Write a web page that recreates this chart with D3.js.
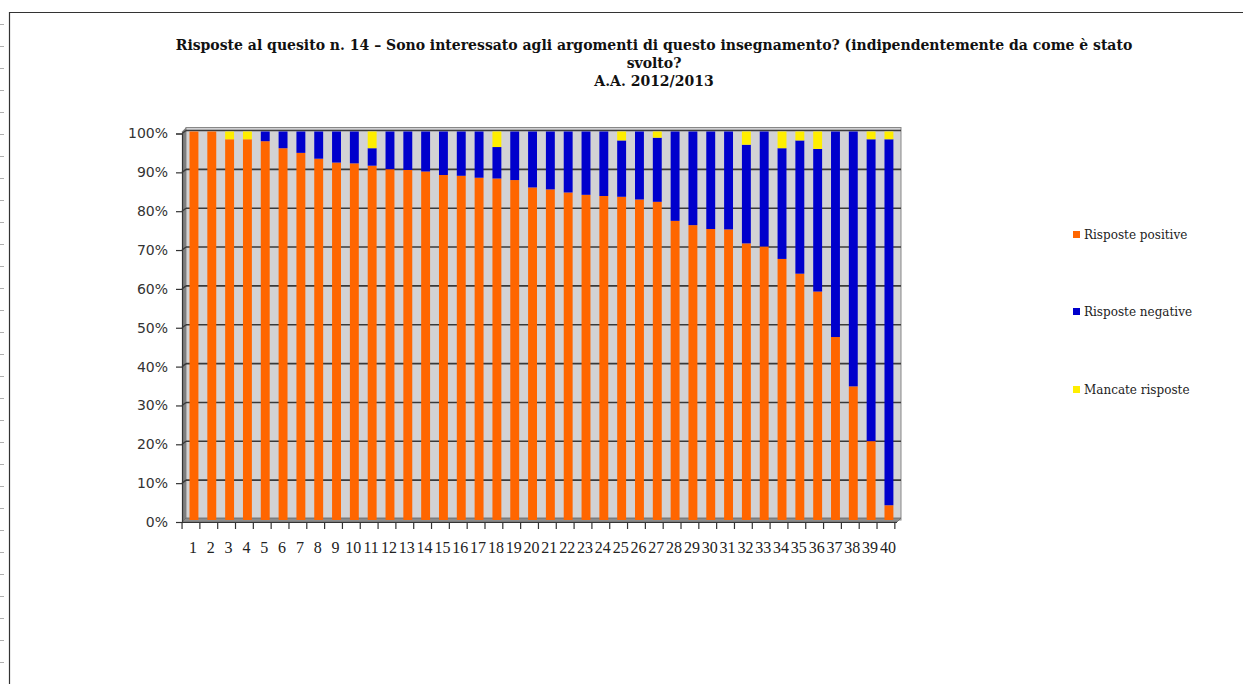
<!DOCTYPE html>
<html>
<head>
<meta charset="utf-8">
<script src="https://cdn.jsdelivr.net/npm/d3@7/dist/d3.min.js"></script>
<style>
  html, body { margin: 0; padding: 0; background: #ffffff; }
  svg { display: block; }
</style>
</head>
<body>
<svg id="chart" width="1252" height="684"></svg>
<script>
// ---- data ----
const categories = ["1","2","3","4","5","6","7","8","9","10","11","12","13","14","15","16","17","18","19","20",
                    "21","22","23","24","25","26","27","28","29","30","31","32","33","34","35","36","37","38","39","40"];
const positive = [100,100,98,98,97.5,95.7,94.5,93,92,91.8,91.2,90.3,90.1,89.7,88.8,88.6,88.1,87.9,87.5,85.6,
                  85.1,84.3,83.7,83.4,83.2,82.5,81.9,77,75.9,74.9,74.8,71.2,70.4,67.2,63.4,58.8,47.1,34.4,20.3,3.8];
const negative = [0,0,0,0,2.5,4.3,5.5,7,8,8.2,4.5,9.7,9.9,10.3,11.2,11.4,11.9,8.1,12.5,14.4,
                  14.9,15.7,16.3,16.6,14.5,17.5,16.5,23,24.1,25.1,25.2,25.4,29.6,28.5,34.3,36.7,52.9,65.6,77.7,94.2];
const missing  = [0,0,2,2,0,0,0,0,0,0,4.3,0,0,0,0,0,0,4,0,0,
                  0,0,0,0,2.3,0,1.6,0,0,0,0,3.4,0,4.3,2.3,4.5,0,0,2,2];
const seriesNames = ["Risposte positive", "Risposte negative", "Mancate risposte"];
const seriesKeys = ["pos", "neg", "mis"];
const seriesColors = ["#ff6600", "#0000cc", "#ffee00"];
const yTicks = [0,10,20,30,40,50,60,70,80,90,100];
const titleLines = [
  "Risposte al quesito n. 14 \u2013 Sono interessato agli argomenti di questo insegnamento? (indipendentemente da come \u00e8 stato",
  "svolto?",
  "A.A. 2012/2013"
];

const table = categories.map((c, i) => ({cat: c, pos: positive[i], neg: negative[i], mis: missing[i]}));

// ---- layout ----
const svg = d3.select("#chart");
const depth = 4;
const backLeft = 186, backRight = 901;
const x = d3.scaleBand().domain(categories).range([180.6, 902.3]).paddingInner(0.5).paddingOuter(0.5);
const y = d3.scaleLinear().domain([0, 100]).range([520, 131.5]);

// frame
svg.append("line").attr("x1", 9.5).attr("x2", 9.5).attr("y1", 12).attr("y2", 684).attr("stroke", "#333").attr("stroke-width", 1.2);
svg.append("line").attr("x1", 9).attr("x2", 1243).attr("y1", 12.5).attr("y2", 12.5).attr("stroke", "#333").attr("stroke-width", 1.2);
// ruler marks
svg.append("g").selectAll("line").data(d3.range(24, 684, 22)).join("line")
  .attr("x1", 0).attr("x2", 4).attr("y1", d => d + 0.5).attr("y2", d => d + 0.5)
  .attr("stroke", "#b0b0b0").attr("stroke-width", 1);

// title
svg.append("g").selectAll("text").data(titleLines).join("text")
  .attr("x", 654).attr("y", (d, i) => 50 + i * 18)
  .attr("text-anchor", "middle")
  .attr("font-family", "'DejaVu Serif', serif").attr("font-weight", "bold").attr("font-size", 14)
  .attr("fill", "#111")
  .text(d => d);

// back wall
svg.append("rect").attr("x", backLeft).attr("y", y(100) - depth).attr("width", backRight - backLeft).attr("height", y(0) - y(100) + depth)
  .attr("fill", "#d2d2d4").attr("stroke", "#888").attr("stroke-width", 1);
// left wall
svg.append("path")
  .attr("d", `M${backLeft - depth},${y(100)} L${backLeft},${y(100) - depth} L${backLeft},${y(0) - depth + 2} L${backLeft - depth},${y(0) + 2} Z`)
  .attr("fill", "#7d7d7d");
// floor
svg.append("path")
  .attr("d", `M${backLeft - depth},${y(0) + 2} L${backLeft},${y(0) - 2} L${backRight},${y(0) - 2} L${backRight - depth},${y(0) + 2} Z`)
  .attr("fill", "#8c8c8c").attr("stroke", "#666").attr("stroke-width", 0.8);

// gridlines
const grid = svg.append("g");
grid.selectAll("line.g").data(yTicks.filter(t => t > 0)).join("line")
  .attr("x1", backLeft).attr("x2", backRight)
  .attr("y1", d => y(d) - 1).attr("y2", d => y(d) - 1)
  .attr("stroke", "#3a3a3a").attr("stroke-width", 1.6);
grid.selectAll("line.s").data(yTicks.filter(t => t > 0)).join("line")
  .attr("x1", backLeft - depth).attr("x2", backLeft)
  .attr("y1", d => y(d) + 2).attr("y2", d => y(d) - 1)
  .attr("stroke", "#3a3a3a").attr("stroke-width", 1.4);

// bars
const stack = d3.stack().keys(seriesKeys);
const layers = stack(table);
svg.append("g").selectAll("g").data(layers).join("g")
  .attr("fill", (d, i) => seriesColors[i])
  .selectAll("rect").data(d => d).join("rect")
  .attr("x", d => x(d.data.cat))
  .attr("y", d => y(d[1]))
  .attr("width", x.bandwidth())
  .attr("height", d => Math.max(0, y(d[0]) - y(d[1])));

// y axis
const yAxis = d3.axisLeft(y).tickValues(yTicks).tickFormat(d => d + "%").tickSize(6).tickPadding(8);
const ya = svg.append("g").attr("transform", `translate(${backLeft - depth},2)`).call(yAxis);
ya.select(".domain").attr("stroke", "#333").attr("stroke-width", 1.2);
ya.selectAll(".tick line").attr("stroke", "#333").attr("stroke-width", 1.2);
ya.selectAll(".tick text").attr("font-family", "'DejaVu Sans', sans-serif").attr("font-size", 14).attr("fill", "#333");

// x axis
const xa = svg.append("g").attr("transform", `translate(0,${y(0) + 2})`);
xa.append("line").attr("x1", backLeft - depth).attr("x2", backRight - depth).attr("y1", 0.5).attr("y2", 0.5)
  .attr("stroke", "#333").attr("stroke-width", 1.2);
const step = x.step();
xa.selectAll("line.t").data(d3.range(categories.length + 1)).join("line")
  .attr("x1", i => x(categories[0]) - step * 0.25 - depth + i * step + 1)
  .attr("x2", i => x(categories[0]) - step * 0.25 - depth + i * step + 1)
  .attr("y1", 0).attr("y2", 7)
  .attr("stroke", "#333").attr("stroke-width", 1.2);
xa.selectAll("text").data(categories).join("text")
  .attr("x", d => x(d) + x.bandwidth() / 2 - 1)
  .attr("y", 31)
  .attr("text-anchor", "middle")
  .attr("font-family", "'Liberation Serif', serif").attr("font-size", 16).attr("fill", "#222")
  .text(d => d);

// legend
const legendY = [235, 312, 390];
const lg = svg.append("g").selectAll("g").data(seriesNames).join("g")
  .attr("transform", (d, i) => `translate(1073,${legendY[i]})`);
lg.append("rect").attr("x", 0).attr("y", -4).attr("width", 7).attr("height", 7).attr("fill", (d, i) => seriesColors[i]);
lg.append("text").attr("x", 11).attr("y", 4)
  .attr("font-family", "'DejaVu Serif', serif").attr("font-size", 12).attr("fill", "#222")
  .text(d => d);
</script>
</body>
</html>
